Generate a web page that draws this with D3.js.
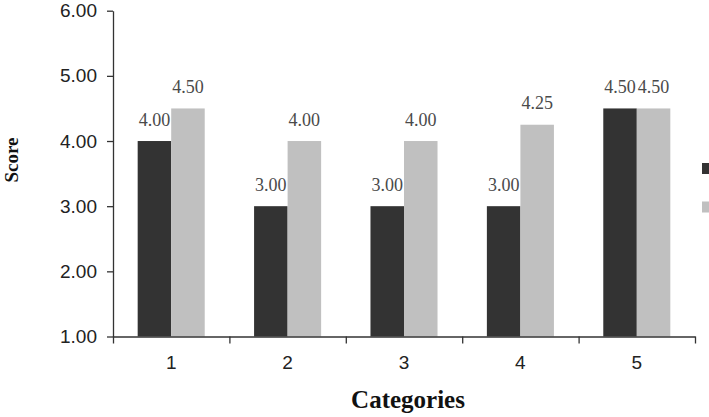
<!DOCTYPE html>
<html>
<head>
<meta charset="utf-8">
<script src="https://cdn.jsdelivr.net/npm/d3@7"></script>
<style>
  html, body { margin: 0; padding: 0; background: #fff; }
  svg { display: block; }
</style>
</head>
<body>
<svg id="chart" width="709" height="417"></svg>
<script>
// Bar chart — two series per category, y axis starts at 1.00
const categories = ["1", "2", "3", "4", "5"];
const seriesKeys = ["A", "B"];
const seriesA = [4.00, 3.00, 3.00, 3.00, 4.50];
const seriesB = [4.50, 4.00, 4.00, 4.25, 4.50];
const yTicks = [1, 2, 3, 4, 5, 6];

const COLORS = { A: "#333333", B: "#c0c0c0" };

const svg = d3.select("#chart");
const plot = { left: 113, right: 695, top: 10.7, bottom: 336.5 };

const rows = categories.map((c, i) => ({ cat: c, A: seriesA[i], B: seriesB[i] }));

const x = d3.scaleBand().domain(categories).range([plot.left, plot.right]);
const bw = x.bandwidth();
const xs = d3.scaleBand().domain(seriesKeys).range([bw * 0.212, bw * 0.788]);
const y = d3.scaleLinear().domain([1, 6]).range([plot.bottom, plot.top]);
// boundary ticks between categories
const xEdge = d3.scaleLinear().domain([0, categories.length]).range([plot.left, plot.right]);

function styleAxis(sel) {
    sel.selectAll(".domain").attr("stroke", "#333").attr("stroke-width", 1.3);
    sel.selectAll("line").attr("stroke", "#333").attr("stroke-width", 1.3);
    sel.selectAll("text").attr("fill", "#222")
        .attr("font-family", "'Liberation Sans', Arial, sans-serif").attr("font-size", "19px");
}

// bars
const groups = svg.append("g").selectAll("g").data(rows).enter().append("g")
    .attr("transform", d => `translate(${x(d.cat)},0)`);

groups.selectAll("rect").data(d => seriesKeys.map(k => ({ k, v: d[k] }))).enter().append("rect")
    .attr("x", d => xs(d.k)).attr("width", xs.bandwidth())
    .attr("y", d => y(d.v)).attr("height", d => y(1) - y(d.v))
    .attr("fill", d => COLORS[d.k]);

groups.selectAll("text").data(d => seriesKeys.map(k => ({ k, v: d[k] }))).enter().append("text")
    .attr("x", d => xs(d.k) + xs.bandwidth() / 2).attr("y", d => y(d.v) - 15.5)
    .attr("text-anchor", "middle")
    .attr("font-family", "'Liberation Serif', 'Times New Roman', serif").attr("font-size", "18px")
    .attr("fill", "#4a4a4a")
    .text(d => d3.format(".2f")(d.v));

// y axis
const yAx = svg.append("g").attr("transform", `translate(${plot.left},0)`)
    .call(d3.axisLeft(y).tickValues(yTicks).tickFormat(d3.format(".2f")).tickSize(6).tickPadding(10).tickSizeOuter(0));
styleAxis(yAx);

// x axis: edge ticks + centred labels
const xAx = svg.append("g").attr("transform", `translate(0,${plot.bottom})`)
    .call(d3.axisBottom(xEdge).ticks(categories.length).tickFormat("").tickSize(7).tickSizeOuter(0));
styleAxis(xAx);
const xLab = svg.append("g").attr("transform", `translate(0,${plot.bottom})`)
    .call(d3.axisBottom(x).tickSize(0).tickPadding(19));
xLab.select(".domain").remove();
styleAxis(xLab);

// axis titles
svg.append("text").attr("x", 408).attr("y", 408).attr("text-anchor", "middle")
    .attr("font-family", "'Liberation Serif', 'Times New Roman', serif")
    .attr("font-weight", "bold").attr("font-size", "25px").attr("fill", "#111")
    .text("Categories");
svg.append("text").attr("transform", "translate(18,160) rotate(-90)").attr("text-anchor", "middle")
    .attr("font-family", "'Liberation Serif', 'Times New Roman', serif")
    .attr("font-weight", "bold").attr("font-size", "19px").attr("fill", "#111")
    .text("Score");

// legend — only the swatches fit inside the frame
seriesKeys.forEach((k, i) => {
    svg.append("rect").attr("x", 702).attr("y", 163 + i * 38.5)
        .attr("width", 11).attr("height", 11).attr("fill", COLORS[k]);
});
</script>
</body>
</html>
